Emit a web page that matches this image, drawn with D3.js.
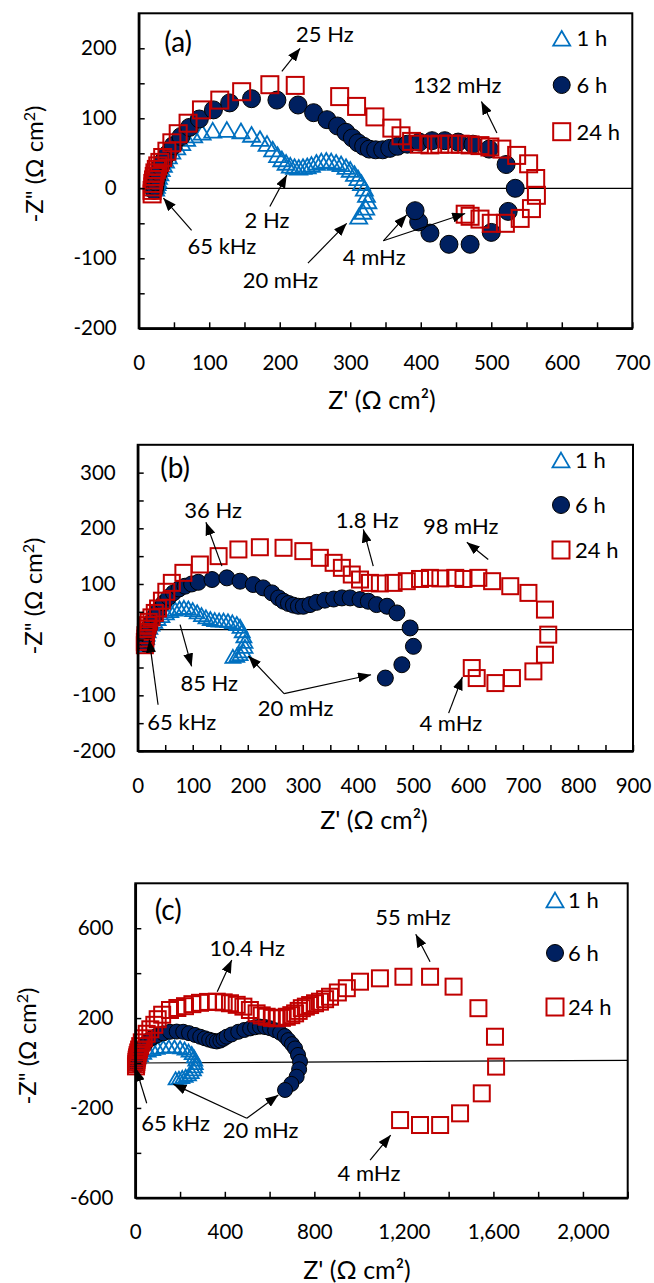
<!DOCTYPE html>
<html><head><meta charset="utf-8">
<script src="https://cdn.jsdelivr.net/npm/d3@7"></script>
<style>
body{margin:0;background:#fff}
svg{display:block}
text{font-family:Lato,"Open Sans","Liberation Sans",sans-serif;fill:#000}
</style>
</head><body>
<svg id="chart" width="654" height="1283"></svg>
<script>
// ---------- DATA ----------
const seriesNames = ["1 h", "6 h", "24 h"];

// Panel (a)
const aZ1h = [[24,0],[25,4],[26,8],[27,12],[28,17],[30,22],[32,28],[35,34],[38,40],[42,46],[47,53],[54,59],[61,65],[68,71],[78,76],[90,80],[105,83],[125,84],[145,82],[160,77],[172,71],[182,64],[190,56],[197,48],[203,42],[209,37],[215,33],[221,31],[227,30],[233,31],[239,32],[245,34],[252,37],[259,39],[266,40],[273,39],[280,37],[287,35],[294,31],[300,27],[306,21],[311,15],[316,8],[320,0],[323,-9],[325,-18],[322,-27],[318,-33],[312,-40]];
const aZ6h = [[22,-3],[23,3],[24,9],[26,16],[28,23],[31,31],[35,39],[41,49],[49,61],[60,74],[72,87],[86,99],[106,112],[129,122],[160,128],[196,126],[226,119],[248,108],[267,98],[282,89],[294,80],[303,72],[311,65],[319,60],[327,56],[336,55],[346,55],[356,57],[367,60],[381,63],[398,66],[416,68],[434,68],[453,66],[474,63],[497,56],[521,34],[534,0],[524,-33],[500,-63],[470,-80],[440,-80],[413,-64],[397,-48],[392,-32]];
const aZ24h = [[19,-8],[19,-3],[20,2],[20,7],[21,12],[22,17],[23,22],[25,27],[27,32],[30,37],[34,44],[40,53],[47,65],[56,78],[70,93],[89,112],[115,126],[146,138],[186,148],[222,147],[285,131],[309,117],[335,102],[359,86],[372,75],[387,67],[398,63],[413,62],[427,63],[441,63],[456,63],[470,62],[484,61],[498,59],[515,56],[536,47],[553,35],[563,14],[564,-10],[557,-29],[541,-43],[520,-50],[500,-50],[484,-44],[470,-40],[463,-37]];
const aRefLine = [[0,0],[700,0]];
const aXTicks = d3.range(0, 701, 50);
const aXLabels = [0,100,200,300,400,500,600,700];
const aYTicks = d3.range(-200, 201, 50);
const aYLabels = [-200,-100,0,100,200];
const aNotes = [["25 Hz",264,220],["132 mHz",452,147],["2 Hz",182,-45],["65 kHz",118,-82],["20 mHz",201,-131],["4 mHz",334,-98]];
const aArrows = [[203,167,229,200],[508,79,486,124],[186,-26,210,19],[75,-60,35,-14],[240,-107,295,-50],[347,-75,380,-38],[347,-75,463,-36]];

// Panel (b)
const bZ1h = [[14,-10],[15,-3],[16,4],[17,10],[19,16],[22,22],[26,28],[31,33],[37,38],[44,43],[52,48],[60,52],[68,55],[76,57],[84,58],[92,57],[100,54],[108,50],[116,45],[124,41],[132,38],[140,36],[148,35],[156,35],[164,34],[172,32],[180,29],[186,24],[190,16],[193,7],[195,-3],[195,-12],[192,-20],[186,-25],[180,-28],[173,-30]];
const bZ6h = [[15,-8],[16,0],[17,8],[19,16],[22,25],[26,34],[31,43],[38,54],[47,66],[56,76],[65,84],[75,91],[86,96],[98,100],[110,103],[135,108],[162,111],[186,105],[210,99],[228,93],[244,84],[256,75],[265,69],[274,65],[283,62],[292,60],[301,60],[313,63],[325,67],[340,71],[356,73],[371,75],[386,75],[404,72],[419,69],[434,63],[453,60],[471,48],[495,21],[501,-12],[480,-45],[450,-69]];
const bZ24h = [[13,-10],[13,-4],[14,2],[14,8],[15,14],[16,20],[18,26],[20,32],[25,40],[31,48],[37,56],[44,70],[52,86],[62,102],[83,120],[113,135],[147,150],[183,162],[222,166],[265,165],[301,159],[331,147],[356,138],[371,129],[389,117],[404,108],[422,102],[440,101],[465,102],[489,105],[513,109],[531,111],[550,110],[577,111],[592,109],[619,111],[644,105],[677,96],[710,84],[740,54],[746,9],[740,-27],[719,-57],[680,-69],[650,-78],[616,-69],[607,-51]];
const bRefLine = [[0,18],[900,18]];
const bXTicks = d3.range(0, 901, 50);
const bXLabels = [0,100,200,300,400,500,600,700,800,900];
const bYTicks = d3.range(-200, 301, 50);
const bYLabels = [-200,-100,0,100,200,300];
const bNotes = [["36 Hz",137,232],["1.8 Hz",417,214],["98 mHz",587,204],["85 Hz",130,-78],["65 kHz",80,-148],["20 mHz",287,-123],["4 mHz",569,-150]];
const bArrows = [[153,132,124,211],[428,132,410,198],[637,144,598,175],[77,27,98,-48],[37,-117,21,0],[266,-97,201,-29],[266,-97,424,-63],[565,-132,590,-67]];

// Panel (c)
const cZ1h = [[5,-5],[7,5],[10,15],[15,25],[25,35],[40,45],[60,55],[80,62],[100,68],[125,72],[150,74],[175,73],[200,70],[220,64],[238,55],[252,44],[262,30],[268,15],[270,0],[268,-15],[262,-28],[252,-40],[240,-50],[225,-57],[210,-62],[195,-66],[180,-68]];
const cZ6h = [[8,-10],[9,0],[10,10],[12,22],[16,35],[22,50],[30,65],[42,82],[58,100],[75,112],[96,122],[125,132],[155,139],[185,140],[214,139],[240,133],[267,125],[290,117],[311,110],[330,104],[348,99],[364,96],[380,100],[394,108],[408,117],[430,127],[460,139],[487,147],[513,154],[535,159],[557,162],[580,160],[602,155],[625,146],[647,135],[668,120],[684,102],[700,84],[714,65],[727,36],[736,6],[732,-28],[721,-61],[697,-93],[669,-120]];
const cZ24h = [[3,-15],[4,-5],[5,5],[6,15],[8,25],[10,35],[13,47],[17,60],[22,75],[29,92],[38,110],[51,130],[67,150],[85,170],[100,195],[120,215],[155,236],[188,245],[222,253],[255,262],[289,268],[325,272],[364,273],[395,270],[423,266],[453,259],[483,251],[512,236],[542,221],[565,212],[587,206],[610,201],[632,199],[655,201],[677,206],[697,213],[714,221],[730,232],[744,244],[762,251],[781,258],[803,266],[825,273],[848,284],[870,295],[905,314],[945,333],[1004,362],[1093,377],[1198,384],[1317,384],[1422,340],[1533,244],[1607,117],[1612,-16],[1548,-135],[1451,-224],[1362,-276],[1272,-276],[1183,-254]];
const cRefLine = [[0,0],[2200,12]];
const cXTicks = d3.range(0, 2201, 200);
const cXLabels = [0,400,800,1200,1600,2000];
const cYTicks = d3.range(-600, 601, 200);
const cYLabels = [-600,-200,200,600];
const cNotes = [["10.4 Hz",500,511],["55 mHz",1241,651],["65 kHz",180,-266],["20 mHz",560,-298],["4 mHz",1044,-491]];
const cArrows = [[366,317,431,459],[1317,451,1253,573],[51,-179,3,-24],[498,-246,170,-94],[498,-246,639,-142],[1049,-432,1141,-321]];

// ---------- LAYOUT ----------
const panels = [
  {tag:"(a)", tagAt:[56,209], left:138.7, right:632.3, top:13.3, bottom:328.3, xDom:[0,700], yDom:[-200,250],
   series:[aZ1h,aZ6h,aZ24h], ref:aRefLine, xTicks:aXTicks, xLabels:aXLabels, yTicks:aYTicks, yLabels:aYLabels,
   notes:aNotes, arrows:aArrows, ms:[17,18,17], legX:561.7, legTX:576.5, legY:[38.3,85,131.7], yTitle:[34,164], xTitle:[382,400]},
  {tag:"(b)", tagAt:[68,309], left:137.7, right:633, top:444.8, bottom:751, xDom:[0,900], yDom:[-200,350],
   series:[bZ1h,bZ6h,bZ24h], ref:bRefLine, xTicks:bXTicks, xLabels:bXLabels, yTicks:bYTicks, yLabels:bYLabels,
   notes:bNotes, arrows:bArrows, ms:[15,16,16], legX:561, legTX:575, legY:[460,505,550], yTitle:[33,596], xTitle:[374,820]},
  {tag:"(c)", tagAt:[147,681], left:135.3, right:627.7, top:883.3, bottom:1197.8, xDom:[0,2200], yDom:[-600,800],
   series:[cZ1h,cZ6h,cZ24h], ref:cRefLine, xTicks:cXTicks, xLabels:cXLabels, yTicks:cYTicks, yLabels:cYLabels,
   notes:cNotes, arrows:cArrows, ms:[14,15,16], legX:555, legTX:568, legY:[900,953,1007], yTitle:[27,1046], xTitle:[357,1270]}
];

const colors = {tri:"#0070C0", circFill:"#002060", sq:"#C00000"};
const svg = d3.select("#chart");
const defs = svg.append("defs");
defs.append("marker").attr("id","ah").attr("viewBox","0 0 13 10")
  .attr("refX",13).attr("refY",5).attr("markerWidth",13).attr("markerHeight",10)
  .attr("markerUnits","userSpaceOnUse").attr("orient","auto")
  .append("path").attr("d","M0,0L13,5L0,10Z").attr("fill","#000");

function triPath(s){ const h=s*Math.sqrt(3)/2; return `M0,${-h/2}L${s/2},${h/2}L${-s/2},${h/2}Z`; }

function drawMarker(g, type, s){
  if(type===0){ g.append("path").attr("d",triPath(s)).attr("fill","none").attr("stroke",colors.tri).attr("stroke-width",1.8); }
  else if(type===1){ g.append("circle").attr("r",s/2).attr("fill",colors.circFill).attr("stroke","#000").attr("stroke-width",1); }
  else { g.append("rect").attr("x",-s/2).attr("y",-s/2).attr("width",s).attr("height",s).attr("fill","none").attr("stroke",colors.sq).attr("stroke-width",2); }
}

const fmt = d => d3.format(",")(d).replace("\u2212","-");

panels.forEach(p => {
  const x = d3.scaleLinear().domain(p.xDom).range([p.left, p.right]);
  const y = d3.scaleLinear().domain(p.yDom).range([p.bottom, p.top]);
  const g = svg.append("g");

  g.append("path").datum(p.ref).attr("d", d3.line().x(d=>x(d[0])).y(d=>y(d[1])))
    .attr("stroke","#000").attr("stroke-width",1.2).attr("fill","none");

  p.series.forEach((data, si) => {
    const sg = g.append("g");
    data.forEach(d => {
      const mg = sg.append("g").attr("transform",`translate(${x(d[0])},${y(d[1])})`);
      drawMarker(mg, si, p.ms[si]);
    });
  });

  const xa = g.append("g").attr("transform",`translate(0,${p.bottom})`)
    .call(d3.axisBottom(x).tickValues(p.xTicks).tickFormat(d => p.xLabels.includes(d) ? fmt(d) : "")
      .tickSize(-6).tickSizeOuter(0).tickPadding(27));
  const ya = g.append("g").attr("transform",`translate(${p.left},0)`)
    .call(d3.axisLeft(y).tickValues(p.yTicks).tickFormat(d => p.yLabels.includes(d) ? fmt(d) : "")
      .tickSize(-6).tickSizeOuter(0).tickPadding(22));
  [xa, ya].forEach(a => {
    a.select(".domain").attr("stroke","#000").attr("stroke-width",2.5);
    a.selectAll(".tick line").attr("stroke","#000").attr("stroke-width",1.5);
    a.selectAll(".tick text").attr("font-size",20.5).attr("font-family","Lato").attr("fill","#000");
  });
  g.append("rect").attr("x",p.left).attr("y",p.top).attr("width",p.right-p.left).attr("height",p.bottom-p.top)
    .attr("fill","none").attr("stroke","#000").attr("stroke-width",2);

  p.arrows.forEach(a => {
    g.append("line").attr("x1",x(a[0])).attr("y1",y(a[1])).attr("x2",x(a[2])).attr("y2",y(a[3]))
      .attr("stroke","#000").attr("stroke-width",1.2).attr("marker-end","url(#ah)");
  });
  p.notes.forEach(n => {
    g.append("text").attr("x",x(n[1])).attr("y",y(n[2])).attr("dy","0.36em")
      .attr("text-anchor","middle").attr("font-size",22).text(n[0]);
  });
  g.append("text").attr("x",x(p.tagAt[0])).attr("y",y(p.tagAt[1])).attr("dy","0.36em")
    .attr("text-anchor","middle").attr("font-size",28).text(p.tag);

  seriesNames.forEach((name, i) => {
    const mg = g.append("g").attr("transform",`translate(${p.legX},${p.legY[i]})`);
    drawMarker(mg, i, 17);
    g.append("text").attr("x",p.legTX).attr("y",p.legY[i]).attr("dy","0.36em").attr("font-size",22).text(name);
  });

  g.append("text").attr("x",p.xTitle[0]).attr("y",p.xTitle[1]).attr("dy","0.36em")
    .attr("text-anchor","middle").attr("font-size",25).text("Z' (\u03A9 cm\u00B2)");
  const yt = g.append("text").attr("transform",`translate(${p.yTitle[0]},${p.yTitle[1]}) rotate(-90)`)
    .attr("dy","0.36em").attr("text-anchor","middle").attr("font-size",24);
  yt.append("tspan").text("-Z\" (\u03A9 cm");
  yt.append("tspan").attr("font-size",16).attr("dy","-8").text("2");
  yt.append("tspan").attr("dy","8").text(")");
});
</script>
</body></html>
